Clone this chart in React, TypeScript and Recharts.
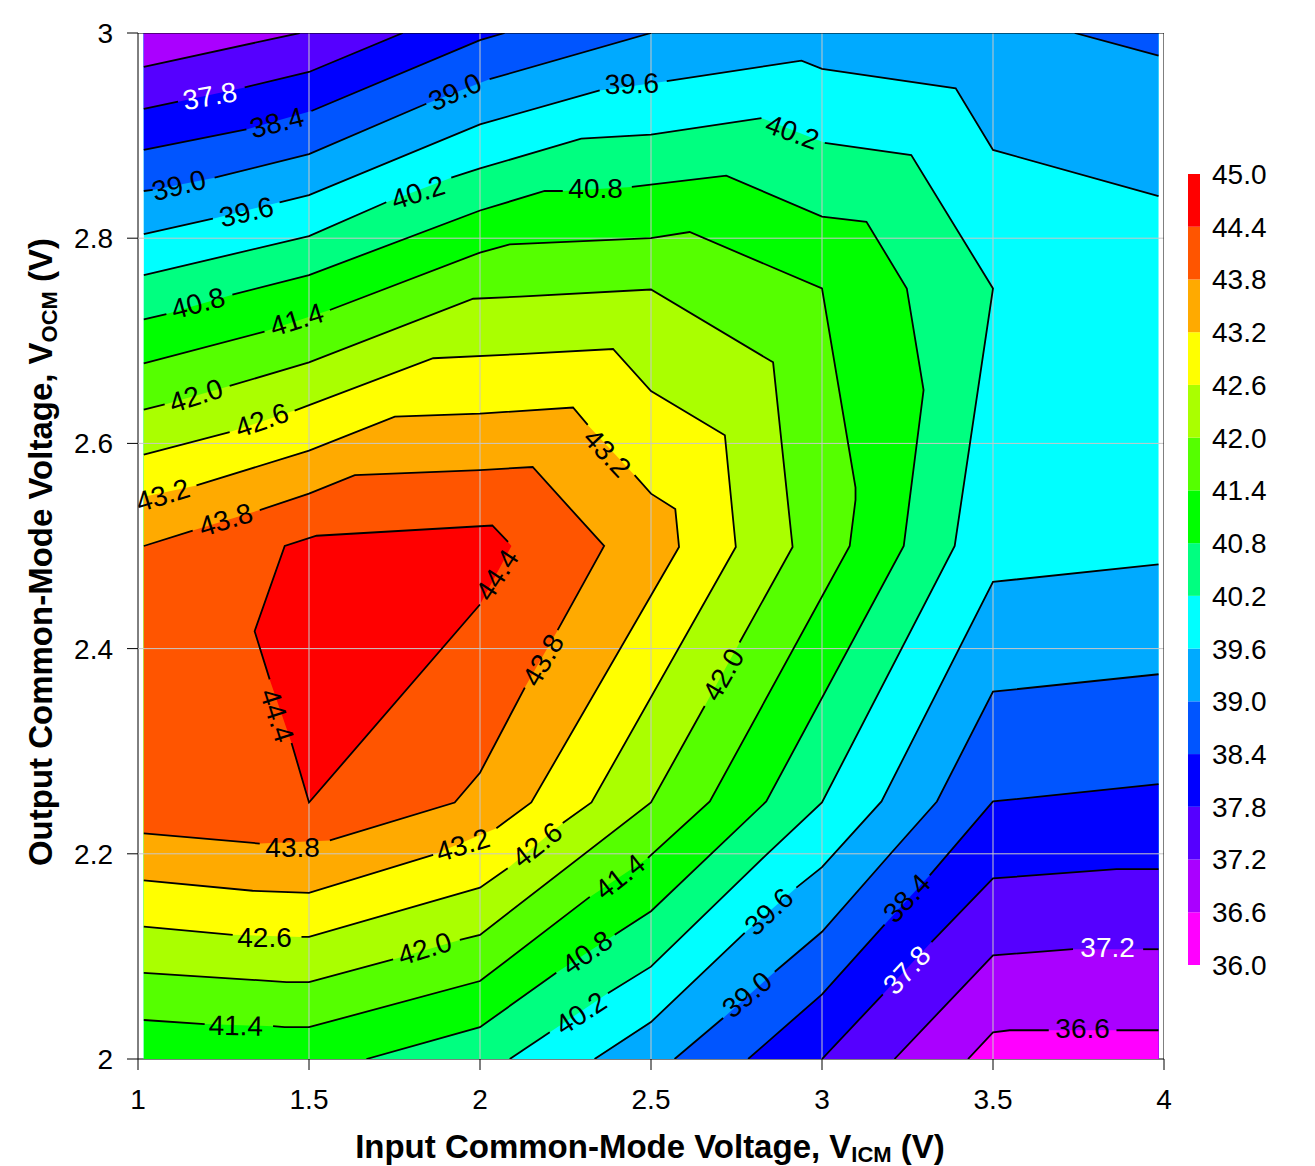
import React from 'react';
import {
  Bar,
  BarChart,
  Polygon,
  Scatter,
  ScatterChart,
  XAxis,
  YAxis,
} from 'recharts';

type Pt = number[];

const L = 1.017;
const R = 3.984;

const xTicks = [1, 1.5, 2, 2.5, 3, 3.5, 4];
const yTicks = [2, 2.2, 2.4, 2.6, 2.8, 3];
const legendTicks = [36, 36.6, 37.2, 37.8, 38.4, 39, 39.6, 40.2, 40.8, 41.4, 42, 42.6, 43.2, 43.8, 44.4, 45];
const legendColors = [
  '#ff00ff', '#aa00ff', '#5500ff', '#0000ff', '#0055ff', '#00aaff', '#00ffff', '#00ff80',
  '#00ff00', '#55ff00', '#aaff00', '#ffff00', '#ffaa00', '#ff5500', '#ff0000',
];

// contour lines, split where a label interrupts them
const top372: Pt[][] = [[[L, 2.967], [1.473, 3]]];
const top378: Pt[][] = [
  [[L, 2.926], [1.117, 2.933]],
  [[1.312, 2.947], [1.5, 2.962], [1.774, 3]],
];
const top384: Pt[][] = [
  [[L, 2.886], [1.317, 2.906]],
  [[1.507, 2.924], [2, 2.993], [2.072, 3]],
];
const top390: Pt[][] = [
  [[L, 2.846], [1.043, 2.847]],
  [[1.224, 2.859], [1.5, 2.882], [1.843, 2.931]],
  [[2.028, 2.955], [2.5, 3]],
];
const topRight390: Pt[][] = [[[3.739, 3], [R, 2.978]]];
const top396: Pt[][] = [
  [[L, 2.804], [1.219, 2.819]],
  [[1.414, 2.835], [1.5, 2.842], [2, 2.911], [2.35, 2.944]],
  [[2.546, 2.953], [2.94, 2.973], [3, 2.965], [3.391, 2.946], [3.5, 2.886], [R, 2.841]],
];
const c402: Pt[][] = [
  [[L, 2.764], [1.5, 2.802], [1.726, 2.835]],
  [[1.916, 2.859], [2, 2.868], [2.296, 2.897], [2.5, 2.901], [2.823, 2.917]],
  [[3.008, 2.893], [3.261, 2.881], [3.5, 2.751], [3.388, 2.5], [3, 2.25], [2.837, 2.199], [2.5, 2.09], [2.374, 2.064]],
  [[2.204, 2.026], [2.087, 2]],
];
const c408: Pt[][] = [
  [[L, 2.721], [1.083, 2.726]],
  [[1.276, 2.745], [1.5, 2.764], [2, 2.827], [2.189, 2.846], [2.242, 2.846]],
  [[2.444, 2.85], [2.72, 2.861], [3, 2.821], [3.13, 2.816], [3.248, 2.751], [3.297, 2.652], [3.239, 2.5], [2.837, 2.251], [2.5, 2.144], [2.394, 2.121]],
  [[2.223, 2.084], [2, 2.031], [1.668, 2]],
];
const c414: Pt[][] = [
  [[L, 2.678], [1.37, 2.709]],
  [[1.561, 2.73], [2, 2.786], [2.087, 2.794], [2.5, 2.8], [2.613, 2.806], [3, 2.751], [3.098, 2.557], [3.098, 2.545], [3.081, 2.5], [2.672, 2.251], [2.491, 2.196]],
  [[2.321, 2.158], [2, 2.076], [1.5, 2.031], [1.429, 2.031], [1.395, 2.032]],
  [[1.195, 2.034], [L, 2.038]],
];
const c420: Pt[][] = [
  [[L, 2.633], [1.078, 2.638]],
  [[1.268, 2.656], [1.5, 2.679], [1.98, 2.741], [2.116, 2.743], [2.5, 2.75], [2.857, 2.679], [2.914, 2.499], [2.759, 2.406]],
  [[2.657, 2.344], [2.5, 2.25], [2, 2.121], [1.941, 2.116]],
  [[1.746, 2.097], [1.5, 2.075], [1.434, 2.075], [L, 2.084]],
];
const c426: Pt[][] = [
  [[L, 2.589], [1.268, 2.611]],
  [[1.458, 2.632], [1.863, 2.683], [2.116, 2.687], [2.389, 2.692], [2.5, 2.651], [2.716, 2.608], [2.748, 2.499], [2.326, 2.25], [2.242, 2.23]],
  [[2.081, 2.186], [2, 2.167], [1.5, 2.119], [1.478, 2.119]],
  [[1.277, 2.121], [L, 2.129]],
];
const c432: Pt[][] = [
  [[L, 2.548]],
  [[1.171, 2.559], [1.5, 2.593], [1.751, 2.626], [2, 2.629], [2.272, 2.635], [2.315, 2.618]],
  [[2.452, 2.569], [2.5, 2.551], [2.571, 2.536], [2.582, 2.499], [2.15, 2.25], [2.048, 2.225]],
  [[1.863, 2.199], [1.5, 2.162], [1.335, 2.164], [L, 2.174]],
];
const c438: Pt[][] = [
  [[L, 2.5], [1.16, 2.515]],
  [[1.356, 2.535], [1.5, 2.551], [1.634, 2.569], [2, 2.574], [2.154, 2.577], [2.363, 2.5], [2.227, 2.418]],
  [[2.131, 2.362], [2, 2.279], [1.926, 2.25], [1.561, 2.213]],
  [[1.356, 2.21], [L, 2.22]],
];
const c444: Pt[][] = [
  [[2.092, 2.5]],
  [[2.082, 2.504], [2.036, 2.52], [1.522, 2.51], [1.429, 2.5], [1.341, 2.417], [1.385, 2.37]],
  [[1.449, 2.308], [1.5, 2.25], [2, 2.443]],
];
const low396: Pt[][] = [
  [[2.335, 2], [2.5, 2.036], [2.774, 2.123]],
  [[2.925, 2.167], [3, 2.187], [3.174, 2.251], [3.5, 2.465], [R, 2.482]],
];
const low390: Pt[][] = [
  [[2.569, 2], [2.711, 2.04]],
  [[2.862, 2.085], [3, 2.124], [3.203, 2.201], [3.336, 2.251], [3.5, 2.358], [R, 2.375]],
];
const low384: Pt[][] = [
  [[2.784, 2], [3, 2.063], [3.183, 2.131]],
  [[3.315, 2.179], [3.5, 2.251], [R, 2.268]],
];
const low378: Pt[][] = [
  [[3, 2], [3.178, 2.063]],
  [[3.32, 2.114], [3.5, 2.176], [3.861, 2.185], [R, 2.185]],
];
const low372: Pt[][] = [
  [[3.212, 2], [3.5, 2.101], [3.734, 2.107]],
  [[3.939, 2.107], [R, 2.107]],
];
const low366: Pt[][] = [
  [[3.427, 2], [3.5, 2.026], [3.549, 2.028], [3.663, 2.028]],
  [[3.861, 2.028], [R, 2.028]],
];

const contours = [
  top372, top378, top384, top390, topRight390, top396, c402, c408, c414, c420, c426, c432, c438, c444,
  low396, low390, low384, low378, low372, low366,
];

// contour labels: x, y, text
const labelX = [1.21, 1.406, 1.119, 1.926, 1.317, 2.444, 1.818, 2.914, 2.294, 1.175, 2.338, 2.312, 1.464, 2.408, 1.286, 1.169, 2.71, 1.838, 1.362, 2.166, 1.37, 1.072, 2.373, 1.949, 1.256, 2.183, 1.452, 2.049, 1.408, 2.844, 2.78, 3.247, 3.247, 3.835, 3.762];
const labelY = [2.939, 2.913, 2.852, 2.943, 2.826, 2.951, 2.845, 2.904, 2.045, 2.737, 2.849, 2.104, 2.721, 2.178, 2.033, 2.647, 2.375, 2.108, 2.623, 2.209, 2.119, 2.55, 2.591, 2.209, 2.526, 2.389, 2.207, 2.472, 2.335, 2.144, 2.063, 2.157, 2.087, 2.109, 2.03];
const labelText = ['37.8', '38.4', '39.0', '39.0', '39.6', '39.6', '40.2', '40.2', '40.2', '40.8', '40.8', '40.8', '41.4', '41.4', '41.4', '42.0', '42.0', '42.0', '42.6', '42.6', '42.6', '43.2', '43.2', '43.2', '43.8', '43.8', '43.8', '44.4', '44.4', '39.6', '39.0', '38.4', '37.8', '37.2', '36.6'];
const labelAngle = [-10, -14, -14, -24, -13, -2, -18, 20, -33, -15, 0, -35, -17, -38, 1, -18, -60, -17, -19, -38, 0, -17, 47, -17, -17, -60, 0, -57, 72, -43, -40, -47, -47, 0, 0];
const whiteLabels = [0, 32, 33];

const toData = (pts: Pt[]) => pts.map((p) => ({ x: p[0], y: p[1] }));
const flat = (c: Pt[][]) => c.flat();

// painted back to front, each region on top of the previous one
const regions: { pts: Pt[]; fill: string }[] = [
  { pts: [[L, 2], [L, 3], [R, 3], [R, 2]], fill: '#00ffff' },
  { pts: [...flat(top396), [R, 3], [L, 3]], fill: '#00aaff' },
  { pts: [...flat(top390), [L, 3]], fill: '#0055ff' },
  { pts: [...flat(topRight390), [R, 3]], fill: '#0055ff' },
  { pts: [...flat(top384), [L, 3]], fill: '#0000ff' },
  { pts: [...flat(top378), [L, 3]], fill: '#5500ff' },
  { pts: [...flat(top372), [L, 3]], fill: '#aa00ff' },
  { pts: [...flat(low396), [R, 2]], fill: '#00aaff' },
  { pts: [...flat(low390), [R, 2]], fill: '#0055ff' },
  { pts: [...flat(low384), [R, 2]], fill: '#0000ff' },
  { pts: [...flat(low378), [R, 2]], fill: '#5500ff' },
  { pts: [...flat(low372), [R, 2]], fill: '#aa00ff' },
  { pts: [...flat(low366), [R, 2]], fill: '#ff00ff' },
  { pts: [...flat(c402), [L, 2]], fill: '#00ff80' },
  { pts: [...flat(c408), [L, 2]], fill: '#00ff00' },
  { pts: flat(c414), fill: '#55ff00' },
  { pts: flat(c420), fill: '#aaff00' },
  { pts: flat(c426), fill: '#ffff00' },
  { pts: flat(c432), fill: '#ffaa00' },
  { pts: flat(c438), fill: '#ff5500' },
  { pts: flat(c444), fill: '#ff0000' },
];

const gridLines: Pt[][] = [
  ...xTicks.slice(1, -1).map((x) => [[x, 2], [x, 3]]),
  ...yTicks.slice(1, -1).map((y) => [[1, y], [4, y]]),
];
const frameLines: Pt[][] = [
  [[1, 3], [4, 3]],
  [[4, 2], [4, 3]],
];

const labelData = labelText.map((text, i) => ({ x: labelX[i], y: labelY[i], text, i }));

const FONT = '"Liberation Sans", Arial, sans-serif';
const noShape = () => <g />;

const ContourLabel = (props: any) => {
  const { cx, cy, payload } = props;
  return (
    <text
      x={cx}
      y={cy}
      dy="0.36em"
      textAnchor="middle"
      fontFamily={FONT}
      fontSize={28}
      fill={whiteLabels.includes(payload.i) ? '#fff' : '#000'}
      transform={`rotate(${labelAngle[payload.i]} ${cx} ${cy})`}
    >
      {payload.text}
    </text>
  );
};

const XTitle = () => (
  <text x={650} y={1158} textAnchor="middle" fontFamily={FONT} fontSize={33} fontWeight="bold">
    Input Common-Mode Voltage, V
    <tspan fontSize={22} dy={4}>ICM</tspan>
    <tspan dy={-4}> (V)</tspan>
  </text>
);

const YTitle = () => (
  <text
    x={52}
    y={552}
    textAnchor="middle"
    fontFamily={FONT}
    fontSize={33}
    fontWeight="bold"
    transform="rotate(-90 52 552)"
  >
    Output Common-Mode Voltage, V
    <tspan fontSize={22} dy={5}>OCM</tspan>
    <tspan dy={-5}> (V)</tspan>
  </text>
);

const legendRow: Record<string, number> = { base: 36 };
legendColors.forEach((_, i) => {
  legendRow[`b${i}`] = legendTicks[i + 1] - legendTicks[i];
});

export default function App() {
  return (
    <div style={{ position: 'absolute', left: 0, top: 0, width: 1315, height: 1166 }}>
      <ScatterChart
        width={1315}
        height={1166}
        margin={{ top: 33, right: 151, bottom: 47, left: 38 }}
      >
        <XAxis
          type="number"
          dataKey="x"
          domain={[1, 4]}
          ticks={xTicks}
          allowDataOverflow
          height={60}
          tickSize={11}
          tickMargin={19}
          tick={{ fontSize: 28, fontFamily: FONT, fill: '#000' }}
          stroke="#000"
          label={{ content: XTitle }}
        />
        <YAxis
          type="number"
          dataKey="y"
          domain={[2, 3]}
          ticks={yTicks}
          allowDataOverflow
          width={100}
          tickSize={11}
          tickMargin={14}
          tick={{ fontSize: 28, fontFamily: FONT, fill: '#000' }}
          stroke="#000"
          label={{ content: YTitle }}
        />
        {regions.map((r, i) => (
          <Scatter
            key={`region-${i}`}
            data={toData(r.pts)}
            isAnimationActive={false}
            shape={noShape}
            line={(p: any) => <Polygon points={p.points} fill={r.fill} stroke="none" />}
          />
        ))}
        {gridLines.map((g, i) => (
          <Scatter
            key={`grid-${i}`}
            data={toData(g)}
            isAnimationActive={false}
            shape={noShape}
            line={{ stroke: '#c8c8c8', strokeWidth: 1 }}
          />
        ))}
        {contours.flat().map((seg, i) => (
          <Scatter
            key={`seg-${i}`}
            data={toData(seg)}
            isAnimationActive={false}
            shape={noShape}
            line={{ stroke: '#000', strokeWidth: 1.8 }}
          />
        ))}
        {frameLines.map((g, i) => (
          <Scatter
            key={`frame-${i}`}
            data={toData(g)}
            isAnimationActive={false}
            shape={noShape}
            line={{ stroke: '#000', strokeWidth: 1 }}
          />
        ))}
        <Scatter data={labelData} isAnimationActive={false} shape={ContourLabel} />
      </ScatterChart>
      <div style={{ position: 'absolute', left: 1188, top: 154 }}>
        <BarChart
          width={90}
          height={831}
          data={[legendRow]}
          barCategoryGap={0}
          margin={{ top: 20, right: 0, bottom: 20, left: 0 }}
        >
          <XAxis hide />
          <YAxis
            orientation="right"
            type="number"
            domain={[36, 45]}
            ticks={legendTicks}
            interval={0}
            allowDataOverflow
            width={78}
            axisLine={false}
            tickLine={false}
            tickMargin={6}
            tickFormatter={(v: number) => v.toFixed(1)}
            tick={{ fontSize: 28, fontFamily: FONT, fill: '#000' }}
          />
          <Bar dataKey="base" stackId="a" fill="none" isAnimationActive={false} />
          {legendColors.map((c, i) => (
            <Bar key={c} dataKey={`b${i}`} stackId="a" fill={c} isAnimationActive={false} />
          ))}
        </BarChart>
      </div>
    </div>
  );
}
